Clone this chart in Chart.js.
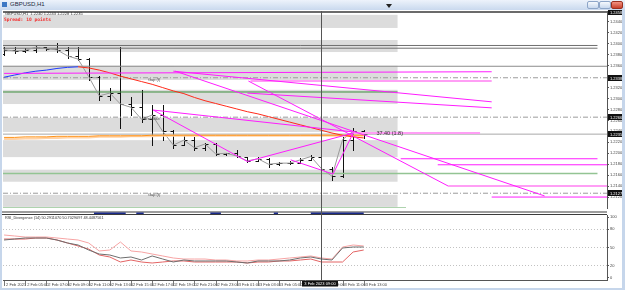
<!DOCTYPE html>
<html>
<head>
<meta charset="utf-8">
<script src="https://cdn.jsdelivr.net/npm/chart.js@4.4.1/dist/chart.umd.min.js"></script>
<style>
  html, body { margin: 0; padding: 0; }
  body { width: 625px; height: 290px; overflow: hidden; position: relative;
         background: #c6d6eb; font-family: "Liberation Sans", Arial, sans-serif; }
  #titlebar { position: absolute; left: 0; top: 0; width: 625px; height: 10px;
              background: linear-gradient(#edf3fb, #c9d9ee); }
  #titlebar .ico { position: absolute; left: 2px; top: 2px; width: 5px; height: 5px; background: #3d78c4; }
  #titlebar .cap { position: absolute; left: 10px; top: 1px; font-size: 6px; color: #1d2b40; }
  .wbtn { position: absolute; top: 1px; width: 10px; height: 6px; border: 1px solid #8ea6c8;
          border-radius: 2px; background: linear-gradient(#f6f9fd, #c8d8ee); }
  .wbtn.close { background: linear-gradient(#f29383, #c8402c); border-color: #9a3020; }
  #shift { position: absolute; left: 386px; top: 4px; width: 0; height: 0;
           border-left: 3px solid transparent; border-right: 3px solid transparent; border-top: 4px solid #222; }
  canvas { position: absolute; left: 2px; background: #fff; }
  #mainChart { top: 10px; }
  #rsiChart { top: 211px; }
</style>
</head>
<body>
<div id="titlebar">
  <div class="ico"></div><span class="cap">GBPUSD,H1</span>
  <div class="wbtn" style="left:587px"></div>
  <div class="wbtn" style="left:599px"></div>
  <div class="wbtn close" style="left:611px"></div>
</div>
<div id="shift"></div>
<canvas id="mainChart" width="620" height="201"></canvas>
<canvas id="rsiChart" width="620" height="77"></canvas>
<script>
// ── GBPUSD H1 bars, 2 Feb 03:00 → 3 Feb 13:00 ──
const opens  = [1.2382,1.2389,1.2387,1.2388,1.2394,1.2391,1.2389,1.2378,1.2372,1.2340,
                1.2305,1.2310,1.2290,1.2284,1.2262,1.2270,1.2240,1.2215,1.2224,1.2210,
                1.2217,1.2199,1.2200,1.2193,1.2186,1.2190,1.2180,1.2182,1.2182,1.2188,
                1.2193,1.2172,1.2158,1.2225,1.2240];
const highs  = [1.2394,1.2394,1.2392,1.2398,1.2394,1.2402,1.2394,1.2394,1.2374,1.2342,
                1.2319,1.2394,1.2303,1.2316,1.2288,1.2288,1.2243,1.2233,1.2230,1.2219,
                1.2219,1.2201,1.2206,1.2193,1.2193,1.2191,1.2184,1.2186,1.2191,1.2197,
                1.2193,1.2175,1.2230,1.2246,1.2243];
const lows   = [1.2380,1.2383,1.2385,1.2385,1.2389,1.2385,1.2374,1.2370,1.2334,1.2297,
                1.2297,1.2246,1.2270,1.2258,1.2215,1.2224,1.2210,1.2215,1.2206,1.2206,
                1.2197,1.2197,1.2193,1.2184,1.2186,1.2175,1.2179,1.2180,1.2182,1.2188,
                1.2170,1.2151,1.2157,1.2206,1.2228];
const closes = [1.2389,1.2387,1.2388,1.2394,1.2391,1.2389,1.2378,1.2372,1.2340,1.2305,
                1.2310,1.2290,1.2284,1.2262,1.2270,1.2240,1.2215,1.2224,1.2210,1.2217,
                1.2199,1.2200,1.2195,1.2186,1.2190,1.2180,1.2182,1.2182,1.2188,1.2194,
                1.2172,1.2158,1.2225,1.2240,1.2235];

// moving averages
const maSlow = [1.2339,1.2343,1.2347,1.2350,1.2352,1.2355,1.2357,1.2358,1.2356,1.2352,
                1.2347,1.2341,1.2336,1.2331,1.2326,1.2320,1.2314,1.2309,1.2302,1.2296,
                1.2291,1.2286,1.2281,1.2276,1.2272,1.2267,1.2262,1.2257,1.2252,1.2247,
                1.2242,1.2237,1.2233,1.2230,1.2228];
const maFast = [1.2229,1.2229,1.2230,1.2230,1.2230,1.2231,1.2231,1.2231,1.2231,1.2232,
                1.2232,1.2232,1.2232,1.2232,1.2233,1.2233,1.2233,1.2233,1.2233,1.2233,
                1.2233,1.2233,1.2233,1.2233,1.2233,1.2233,1.2233,1.2233,1.2233,1.2233,
                1.2233,1.2233,1.2233,1.2233,1.2233];
const maBand = [1.2226,1.2226,1.2227,1.2227,1.2228,1.2228,1.2229,1.2229,1.2229,1.2230,
                1.2230,1.2230,1.2231,1.2231,1.2231,1.2232,1.2232,1.2232,1.2232,1.2232,
                1.2232,1.2232,1.2232,1.2232,1.2232,1.2232,1.2232,1.2232,1.2232,1.2232,
                1.2232,1.2232,1.2232,1.2232,1.2232];

// RSI_Divergence (14)
const rsiMain  = [62.3,63.9,65.6,65.6,65.6,62.3,57.4,54.1,45.9,39.3,
                  37.7,32.8,34.4,29.5,36.1,31.1,26.2,29.5,27.9,27.9,
                  27.9,27.9,26.2,24.6,27.9,27.9,27.9,29.5,32.8,34.4,
                  31.1,29.5,49.2,50.8,50.8];
const rsiUpper = [70.5,68.9,67.2,67.2,67.2,65.6,63.9,62.3,57.4,44.3,
                  45.9,59.0,44.3,42.6,39.3,36.1,32.8,31.1,31.1,31.1,
                  29.5,29.5,27.9,27.9,29.5,29.5,31.1,32.8,34.4,36.1,
                  32.8,31.1,50.8,54.1,52.5];
const rsiLower = [63.9,63.9,63.9,65.6,65.6,62.3,57.4,52.5,47.5,37.7,
                  34.4,26.2,29.5,26.2,24.6,26.2,27.9,27.9,26.2,26.2,
                  26.2,26.2,26.2,24.6,26.2,26.2,27.9,27.9,29.5,31.1,
                  26.2,26.2,26.2,42.6,45.9];

// axes
const priceTicks = [1.2440,1.2420,1.2400,1.2380,1.2360,1.2340,1.2320,1.2300,1.2280,
                    1.2260,1.2240,1.2220,1.2200,1.2180,1.2160,1.2140,1.2120];
const rsiTicks = [0, 20, 50, 80, 100];
const rsiGrid = [20, 50, 80];
const timeTickIdx = [0,2,4,6,8,10,12,14,16,18,20,22,24,26,28,30,32,34];
const timeLabels = ['2 Feb 2023','2 Feb 05:00','2 Feb 07:00','2 Feb 09:00','2 Feb 11:00','2 Feb 13:00',
                    '2 Feb 15:00','2 Feb 17:00','2 Feb 19:00','2 Feb 21:00','2 Feb 23:00','3 Feb 01:00',
                    '3 Feb 03:00','3 Feb 05:00','3 Feb 07:00','3 Feb 09:00','3 Feb 11:00','3 Feb 13:00'];
const cursorIdx = 30;
const cursorLabel = '3 Feb 2023 09:00';

// chart objects
const zoneHigh = [1.2453,1.2407,1.2360,1.2316,1.2265,1.2224,1.2170,1.2124];
const zoneLow  = [1.2429,1.2385,1.2334,1.2290,1.2239,1.2193,1.2148,1.2102];
const zoneEnd = 37.2;
const topLevel = 1.2458;
const pairLevels = [1.2397, 1.2392];
const pairEnd = 56.1;
const grayLevel = 1.2359;
const dashLevels = [1.2338, 1.2266, 1.2127];
const greenLevels = [1.2312, 1.2163, 1.2100];
const greenEnds = [37.2, 56.1, 38.0];
const markedPrices = [1.2458, 1.2338, 1.2266, 1.2235, 1.2127];
const magentaLines = [
  [[0, 1.2346], [46.1, 1.2349]],
  [[16.0, 1.2350], [46.1, 1.2294]],
  [[23.0, 1.2310], [46.1, 1.2283]],
  [[16.2, 1.2350], [51.1, 1.2122]],
  [[23.1, 1.2332], [42.0, 1.2140]],
  [[14.1, 1.2279], [33.0, 1.2239]],
  [[14.1, 1.2279], [23.0, 1.2185], [33.0, 1.2237]],
  [[27.1, 1.2188], [31.1, 1.2162], [33.0, 1.2237]],
  [[37.5, 1.2190], [56.1, 1.2190]],
  [[41.0, 1.2179], [57.0, 1.2179]],
  [[46.1, 1.2120], [57.0, 1.2120]]
];
const pinkLines = [
  [[23.3, 1.2332], [46.1, 1.2332]],
  [[42.0, 1.2140], [57.0, 1.2140]],
  [[33.0, 1.2237], [45.0, 1.2237]]
];
const notes = [
  { x: 13.6, y: 1.2334, text: 'Gap (f)' },
  { x: 13.2, y: 1.2263, text: 'Breakout' },
  { x: 13.6, y: 1.2124, text: 'Gap (f)' }
];
const fibText = '37.40 (1.8)';
const fibAt = [35.2, 1.2237];
const navyStrips = [[8.5, 11.5], [12.5, 13.2], [19.5, 20.5], [25.5, 25.9], [29.0, 34.0]];

const X_MIN = -0.1, X_MAX = 57;
const FONT = '"Liberation Sans", Arial, sans-serif';

const series = arr => arr.map((v, i) => ({ x: i, y: v }));
const hline = (p, from, to) => [{ x: from, y: p }, { x: to, y: p }];
const path = pts => pts.map(([x, y]) => ({ x, y }));
const line = (data, color, width, extra) => Object.assign(
  { data, borderColor: color, borderWidth: width, pointRadius: 0, fill: false, tension: 0 }, extra || {});
const noPad = s => { s.paddingTop = 0; s.paddingBottom = 0; s.paddingLeft = 0; s.paddingRight = 0; };

// first dataset is drawn on top
const mainSets = [
  ...magentaLines.map(p => line(path(p), '#ff1cff', 1)),
  ...pinkLines.map(p => line(path(p), '#ff9ef5', 2)),
  line(series(maSlow), '#ff2a1a', 1, {
    segment: { borderColor: c => c.p1.parsed.y >= c.p0.parsed.y ? '#1f3cff' : '#ff2a1a' } }),
  line(series(maFast), '#ff9318', 1),
  line(series(maBand), '#ffd2a6', 2),
  line(series(closes), '#9a9a9a', 1),
  line(hline(closes[closes.length - 1], X_MIN, X_MAX), '#a8a8a8', 1),
  ...dashLevels.map(p => line(hline(p, X_MIN, X_MAX), '#9c9c9c', 1, { borderDash: [5, 2, 1, 2] })),
  line(hline(topLevel, X_MIN, X_MAX), '#3a3a3a', 1.5),
  ...pairLevels.map(p => line(hline(p, X_MIN, pairEnd), '#707070', 1)),
  line(hline(grayLevel, X_MIN, X_MAX), '#8c8c8c', 1),
  ...greenLevels.map((p, k) => line(hline(p, X_MIN, greenEnds[k]),
      k === 0 ? '#3d8f3d' : '#93c493', k === 0 ? 1 : 1.5))
];

const mainDecor = {
  id: 'mainDecor',
  beforeDatasetsDraw(chart) {
    const { ctx, chartArea: a, scales: { x, y } } = chart;
    ctx.save();
    ctx.beginPath(); ctx.rect(a.left, a.top, a.right - a.left, a.bottom - a.top); ctx.clip();
    // grey zones
    ctx.fillStyle = '#dcdcdc';
    const xe = x.getPixelForValue(zoneEnd);
    zoneHigh.forEach((hi, k) => {
      const y1 = y.getPixelForValue(hi), y2 = y.getPixelForValue(zoneLow[k]);
      ctx.fillRect(a.left, y1, xe - a.left, y2 - y1);
    });
    // OHLC bars
    ctx.strokeStyle = '#111'; ctx.lineWidth = 1;
    opens.forEach((o, i) => {
      const px = Math.round(x.getPixelForValue(i)) + 0.5;
      const yo = Math.round(y.getPixelForValue(o)) + 0.5;
      const yc = Math.round(y.getPixelForValue(closes[i])) + 0.5;
      ctx.beginPath();
      ctx.moveTo(px, Math.round(y.getPixelForValue(highs[i])));
      ctx.lineTo(px, Math.round(y.getPixelForValue(lows[i])) + 1);
      ctx.moveTo(px - 3, yo); ctx.lineTo(px, yo);
      ctx.moveTo(px, yc); ctx.lineTo(px + 3, yc);
      ctx.stroke();
    });
    ctx.restore();
  },
  afterDraw(chart) {
    const { ctx, chartArea: a, scales: { x, y } } = chart;
    ctx.save();
    // crosshair
    const cx = Math.round(x.getPixelForValue(cursorIdx)) + 0.5;
    ctx.strokeStyle = '#555'; ctx.lineWidth = 1;
    ctx.beginPath(); ctx.moveTo(cx, a.top); ctx.lineTo(cx, chart.height); ctx.stroke();
    // object captions
    ctx.textBaseline = 'middle';
    ctx.font = `4px ${FONT}`; ctx.fillStyle = '#444';
    notes.forEach(n => ctx.fillText(n.text, x.getPixelForValue(n.x), y.getPixelForValue(n.y)));
    ctx.font = `5.5px ${FONT}`; ctx.fillStyle = '#333';
    ctx.fillText(fibText, x.getPixelForValue(fibAt[0]), y.getPixelForValue(fibAt[1]));
    // header
    const n = closes.length - 1;
    ctx.textBaseline = 'top';
    ctx.font = `4px ${FONT}`; ctx.fillStyle = '#333';
    ctx.fillText(`GBPUSD,H1  ${opens[n].toFixed(4)} ${highs[n].toFixed(4)} ${lows[n].toFixed(4)} ${closes[n].toFixed(4)}`,
                 a.left + 2, a.top + 1);
    ctx.font = 'bold 4.6px "DejaVu Sans Mono", monospace'; ctx.fillStyle = '#f23030';
    ctx.fillText('Spread: 10 points', a.left + 1, a.top + 6);
    // highlighted prices on the axis
    ctx.font = `4px ${FONT}`; ctx.textBaseline = 'middle';
    markedPrices.forEach(p => {
      const py = Math.round(y.getPixelForValue(p));
      ctx.fillStyle = '#111'; ctx.fillRect(a.right + 1, py - 3, chart.width - a.right - 1, 6);
      ctx.fillStyle = '#fff'; ctx.fillText(p.toFixed(4), a.right + 3, py + 0.5);
    });
    ctx.restore();
  }
};

new Chart(document.getElementById('mainChart'), {
  type: 'line',
  data: { datasets: mainSets },
  options: {
    responsive: false, animation: false, events: [],
    layout: { padding: { left: 1, top: 1, right: 0, bottom: 3 } },
    plugins: { legend: { display: false }, tooltip: { enabled: false } },
    scales: {
      x: { type: 'linear', min: X_MIN, max: X_MAX, display: false },
      y: {
        position: 'right', min: 1.2100, max: 1.2460,
        afterBuildTicks: s => { s.ticks = priceTicks.map(v => ({ value: v })); },
        afterFit: s => { s.width = 15; noPad(s); },
        grid: { drawOnChartArea: false, drawTicks: true, tickLength: 2, tickColor: '#555' },
        border: { display: true, color: '#555' },
        ticks: { autoSkip: false, padding: 1, color: '#444', font: { size: 4, family: FONT },
                 callback: v => v.toFixed(4) }
      }
    }
  },
  plugins: [mainDecor]
});

const rsiDecor = {
  id: 'rsiDecor',
  afterDraw(chart) {
    const { ctx, chartArea: a, scales: { x } } = chart;
    ctx.save();
    // separator with strip
    ctx.fillStyle = '#3c3c3c';
    ctx.fillRect(0, 0.5, a.right, 1);
    ctx.fillRect(0, 3, a.right, 1);
    ctx.fillStyle = '#1a2a8a';
    navyStrips.forEach(([s, e]) => {
      const x0 = x.getPixelForValue(s), x1 = x.getPixelForValue(e);
      ctx.fillRect(x0, 1.5, x1 - x0, 1.5);
    });
    // header
    ctx.textBaseline = 'top';
    ctx.font = `3.8px ${FONT}`; ctx.fillStyle = '#333';
    ctx.fillText('RSI_Divergence (14) 50.2911070 50.7029097 48.4487561', a.left + 2, 5);
    // crosshair
    const cx = Math.round(x.getPixelForValue(cursorIdx)) + 0.5;
    ctx.strokeStyle = '#555'; ctx.lineWidth = 1;
    ctx.beginPath(); ctx.moveTo(cx, 0); ctx.lineTo(cx, a.bottom); ctx.stroke();
    // time tick marks
    ctx.strokeStyle = '#777';
    timeTickIdx.forEach(v => {
      const px = Math.round(x.getPixelForValue(v)) + 0.5;
      ctx.beginPath(); ctx.moveTo(px, a.bottom + 1); ctx.lineTo(px, a.bottom + 6); ctx.stroke();
    });
    // cursor time box
    ctx.fillStyle = '#111';
    ctx.fillRect(cx - 19.5, a.bottom + 1, 36, 5.5);
    ctx.fillStyle = '#fff'; ctx.font = `4px ${FONT}`; ctx.textAlign = 'center';
    ctx.fillText(cursorLabel, cx - 1.5, a.bottom + 2);
    ctx.restore();
  }
};

new Chart(document.getElementById('rsiChart'), {
  type: 'line',
  data: {
    datasets: [
      line(series(rsiMain), '#6e6e6e', 1),
      line(series(rsiUpper), '#f7a4a4', 1),
      line(series(rsiLower), '#e36464', 1)
    ]
  },
  options: {
    responsive: false, animation: false, events: [],
    layout: { padding: { left: 1, top: 4, right: 0, bottom: 0 } },
    plugins: { legend: { display: false }, tooltip: { enabled: false } },
    scales: {
      x: {
        type: 'linear', min: X_MIN, max: X_MAX, position: 'bottom',
        afterBuildTicks: s => { s.ticks = timeTickIdx.map(v => ({ value: v })); },
        afterFit: s => { s.height = 8; noPad(s); },
        grid: { drawOnChartArea: false, drawTicks: false },
        border: { display: true, color: '#555' },
        ticks: { autoSkip: false, maxRotation: 0, minRotation: 0, align: 'start', padding: 2,
                 labelOffset: 2, color: '#444', font: { size: 4, family: FONT },
                 callback: (v, k) => timeLabels[k] }
      },
      y: {
        position: 'right', min: -3.3, max: 103.3,
        afterBuildTicks: s => { s.ticks = rsiTicks.map(v => ({ value: v })); },
        afterFit: s => { s.width = 15; noPad(s); },
        grid: { color: c => rsiGrid.includes(c.tick && c.tick.value) ? '#c2c2c2' : 'rgba(0,0,0,0)',
                drawTicks: true, tickLength: 2, tickColor: '#555' },
        border: { display: true, color: '#555', dash: [1, 2] },
        ticks: { autoSkip: false, padding: 1, color: '#444', font: { size: 4, family: FONT },
                 callback: v => String(v) }
      }
    }
  },
  plugins: [rsiDecor]
});
</script>
</body>
</html>
